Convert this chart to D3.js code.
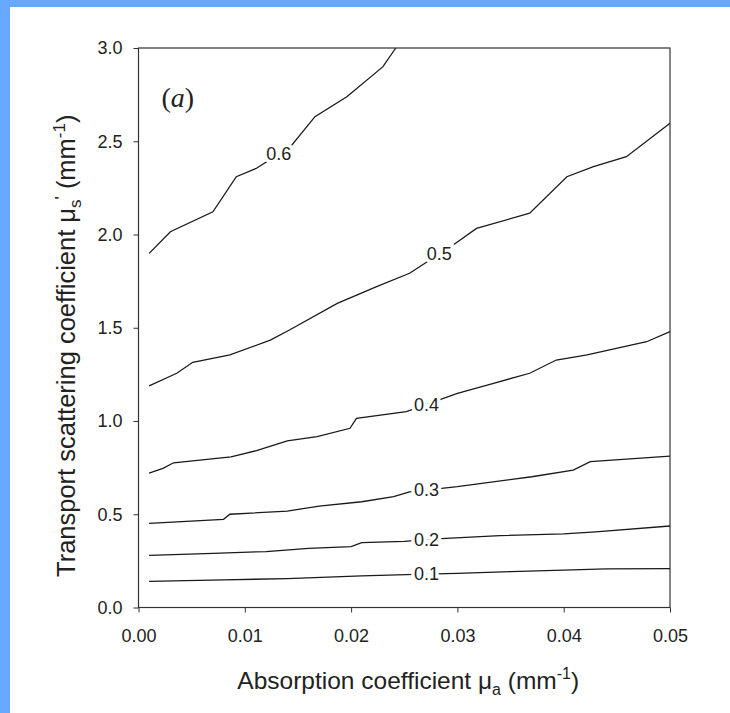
<!DOCTYPE html>
<html>
<head>
<meta charset="utf-8">
<script src="https://cdn.jsdelivr.net/npm/d3@7"></script>
<style>
body { margin: 0; background: #fff; }
svg { display: block; }
.tick text { font-family: "Liberation Sans", Arial, sans-serif; font-size: 18px; fill: #222; }
.tick line { stroke: #333; }
.domain { display: none; }
</style>
</head>
<body>
<div id="contour-chart"></div>
<script>
// contour levels and where their labels sit (absorption coefficient)
var levels = [0.1, 0.2, 0.3, 0.4, 0.5, 0.6];
var labelMua = [0.0271, 0.0271, 0.0271, 0.0271, 0.0283, 0.0132];

// each contour: [mu_a, mu_s']
var contour01 = [[0.001,0.140],[0.008,0.148],[0.014,0.155],[0.021,0.170],[0.026,0.178],[0.030,0.183],[0.035,0.192],[0.040,0.200],[0.044,0.207],[0.050,0.208]];
var contour02 = [[0.001,0.280],[0.007,0.290],[0.012,0.300],[0.016,0.317],[0.020,0.326],[0.021,0.348],[0.025,0.355],[0.028,0.368],[0.034,0.385],[0.040,0.395],[0.043,0.406],[0.050,0.437]];
var contour03 = [[0.001,0.451],[0.008,0.473],[0.0086,0.500],[0.014,0.517],[0.017,0.544],[0.021,0.567],[0.024,0.594],[0.0255,0.620],[0.030,0.648],[0.037,0.701],[0.0409,0.737],[0.0425,0.782],[0.050,0.812]];
var contour04 = [[0.001,0.720],[0.0023,0.746],[0.0033,0.776],[0.0087,0.808],[0.0111,0.841],[0.0140,0.894],[0.0168,0.916],[0.0199,0.961],[0.0205,1.014],[0.0252,1.050],[0.030,1.148],[0.0334,1.202],[0.0368,1.256],[0.0393,1.327],[0.0422,1.354],[0.0478,1.425],[0.050,1.479]];
var contour05 = [[0.001,1.188],[0.0036,1.256],[0.0051,1.315],[0.0086,1.354],[0.0124,1.434],[0.0142,1.488],[0.0187,1.631],[0.0224,1.720],[0.0255,1.792],[0.0296,1.944],[0.0318,2.033],[0.0368,2.114],[0.0403,2.310],[0.0428,2.364],[0.0459,2.417],[0.050,2.596]];
var contour06 = [[0.001,1.899],[0.003,2.015],[0.007,2.122],[0.0092,2.310],[0.0111,2.355],[0.0143,2.471],[0.0166,2.632],[0.0196,2.739],[0.0230,2.900],[0.0242,3.000]];
var contours = [contour01, contour02, contour03, contour04, contour05, contour06];

var xTicks = [0, 0.01, 0.02, 0.03, 0.04, 0.05];
var yTicks = [0, 0.5, 1.0, 1.5, 2.0, 2.5, 3.0];

var W = 730, H = 713;
var margin = {left: 138.5, top: 48, right: 60, bottom: 105.5};
var w = W - margin.left - margin.right;
var h = H - margin.top - margin.bottom;
var font = '"Liberation Sans", Arial, sans-serif';

var svg = d3.select("#contour-chart").append("svg")
	.attr("width", W)
	.attr("height", H);

// blue page edge from the scan
svg.append("rect").attr("x", 0).attr("y", 0).attr("width", W).attr("height", 7).attr("fill", "#66a9fe");
svg.append("rect").attr("x", 0).attr("y", 0).attr("width", 10).attr("height", H).attr("fill", "#66a9fe");

var g = svg.append("g")
	.attr("transform", "translate(" + margin.left + "," + margin.top + ")");

var xrange = d3.scaleLinear().domain([0, 0.05]).range([0, w]);
var yrange = d3.scaleLinear().domain([0, 3]).range([h, 0]);

var xaxis = d3.axisBottom(xrange).tickValues(xTicks).tickFormat(d3.format(".2f")).tickSize(5).tickPadding(17);
var yaxis = d3.axisLeft(yrange).tickValues(yTicks).tickFormat(d3.format(".1f")).tickSize(5).tickPadding(11);

g.append("g").attr("transform", "translate(0," + h + ")").call(xaxis);
g.append("g").call(yaxis);

// frame
g.append("rect")
	.attr("x", 0).attr("y", 0)
	.attr("width", w).attr("height", h)
	.attr("fill", "none")
	.attr("stroke", "#333")
	.attr("stroke-width", 1.2);

var line = d3.line()
	.x(function(d) { return xrange(d[0]); })
	.y(function(d) { return yrange(d[1]); });

g.selectAll("path.contour")
	.data(contours)
	.enter()
	.append("path")
	.attr("class", "contour")
	.attr("d", line)
	.attr("fill", "none")
	.attr("stroke", "#1a1a1a")
	.attr("stroke-width", 1.3);

// labels sit on the line, white halo cuts the gap
function yAt(pts, x) {
	for (var i = 1; i < pts.length; i++) {
		if (x <= pts[i][0]) {
			var t = (x - pts[i-1][0]) / (pts[i][0] - pts[i-1][0]);
			return pts[i-1][1] + t * (pts[i][1] - pts[i-1][1]);
		}
	}
	return pts[pts.length-1][1];
}

g.selectAll("text.level")
	.data(levels)
	.enter()
	.append("text")
	.attr("class", "level")
	.attr("x", function(d, i) { return xrange(labelMua[i]); })
	.attr("y", function(d, i) { return yrange(yAt(contours[i], labelMua[i])); })
	.attr("dy", "0.35em")
	.attr("text-anchor", "middle")
	.style("font-family", font)
	.style("font-size", "18px")
	.attr("fill", "#222")
	.attr("stroke", "#fff")
	.attr("stroke-width", 7)
	.attr("paint-order", "stroke")
	.text(function(d) { return d3.format(".1f")(d); });

// panel tag
var tag = g.append("text")
	.attr("x", 23)
	.attr("y", 59)
	.style("font-family", '"Liberation Serif", "Times New Roman", serif')
	.style("font-size", "28px")
	.attr("fill", "#222");
tag.append("tspan").text("(");
tag.append("tspan").style("font-style", "italic").text("a");
tag.append("tspan").text(")");

// x axis title
var xt = svg.append("text")
	.attr("x", margin.left + w / 2 + 4)
	.attr("y", 689)
	.attr("text-anchor", "middle")
	.style("font-family", font)
	.style("font-size", "24.5px")
	.attr("fill", "#222");
xt.append("tspan").text("Absorption coefficient \u03bc");
xt.append("tspan").attr("dy", 6).style("font-size", "16px").text("a");
xt.append("tspan").attr("dy", -6).text(" (mm");
xt.append("tspan").attr("dy", -10).style("font-size", "16px").text("-1");
xt.append("tspan").attr("dy", 10).text(")");

// y axis title
var yt = svg.append("text")
	.attr("transform", "translate(75," + (margin.top + h / 2 + 18) + ")rotate(-90)")
	.attr("text-anchor", "middle")
	.style("font-family", font)
	.style("font-size", "25.5px")
	.attr("fill", "#222");
yt.append("tspan").text("Transport scattering coefficient \u03bc");
yt.append("tspan").attr("dy", 6).style("font-size", "17px").text("s");
yt.append("tspan").attr("dy", -14).style("font-size", "17px").text("'");
yt.append("tspan").attr("dy", 8).text(" (mm");
yt.append("tspan").attr("dy", -10).style("font-size", "17px").text("-1");
yt.append("tspan").attr("dy", 10).text(")");
</script>
</body>
</html>
